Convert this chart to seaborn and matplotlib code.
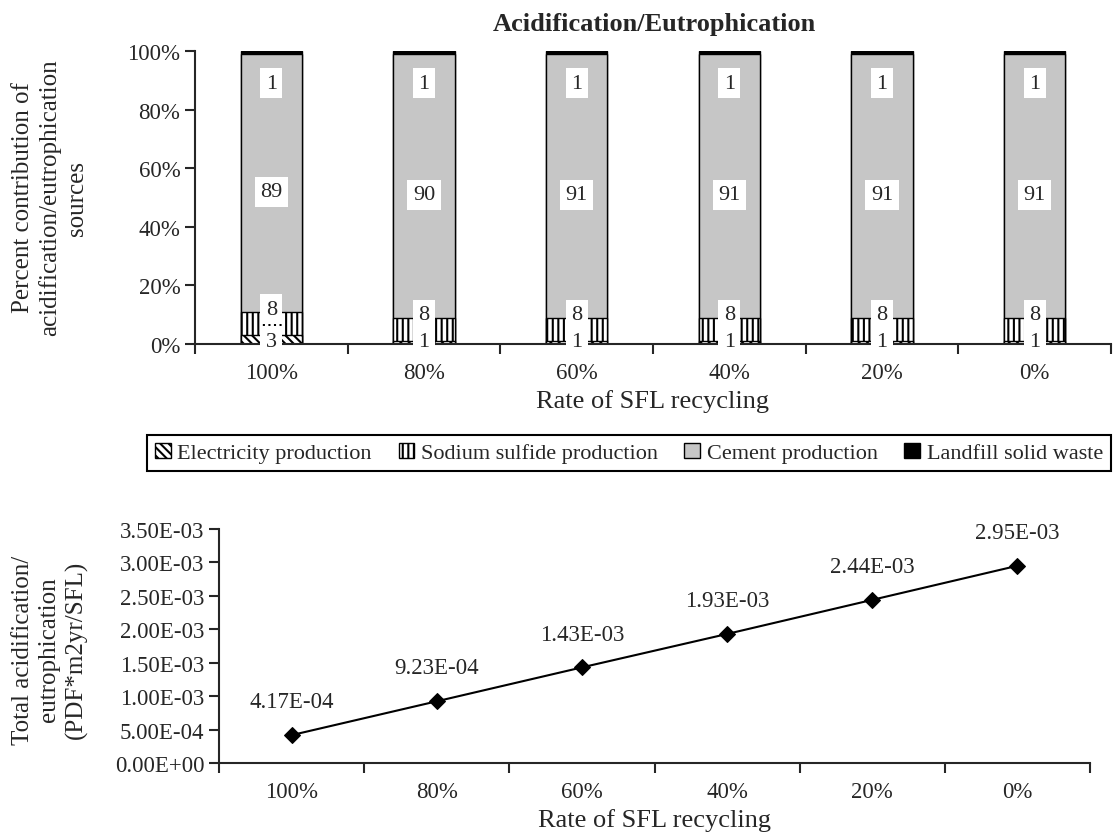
import numpy as np
import pandas as pd
import seaborn as sns
import matplotlib.pyplot as plt
from matplotlib.patches import Patch

rates = ["100%", "80%", "60%", "40%", "20%", "0%"]
electricity = [3, 1, 1, 1, 1, 1]
sodium_sulfide = [8, 8, 8, 8, 8, 8]
cement = [89, 90, 91, 91, 91, 91]
landfill = [1, 1, 1, 1, 1, 1]
total_impact = [4.17e-4, 9.23e-4, 1.43e-3, 1.93e-3, 2.44e-3, 2.95e-3]

sns.set_style("ticks")
plt.rcParams['font.family'] = ['Liberation Serif', 'DejaVu Serif']
plt.rcParams['hatch.linewidth'] = 1.5
plt.rcParams['axes.linewidth'] = 1.5

df = pd.DataFrame({
    "Electricity production": electricity,
    "Sodium sulfide production": sodium_sulfide,
    "Cement production": cement,
    "Landfill solid waste": landfill,
}, index=rates)
share = df.div(df.sum(axis=1), axis=0) * 100
cum = share.cumsum(axis=1)

styles = {
    "Electricity production": ("white", "\\\\\\\\"),
    "Sodium sulfide production": ("white", "|||"),
    "Cement production": ("#c6c6c6", None),
    "Landfill solid waste": ("black", None),
}

fig = plt.figure(figsize=(11.18, 8.37), dpi=100)
ax1 = fig.add_axes([195 / 1118, 1 - 345 / 837, (1111 - 195) / 1118, (345 - 52) / 837])
ax2 = fig.add_axes([219 / 1118, 1 - 764 / 837, (1090 - 219) / 1118, (764 - 530) / 837])

# stacked bars: draw cumulative heights from the top layer down
for col in reversed(df.columns):
    fc, hatch = styles[col]
    sns.barplot(x=rates, y=cum[col].to_numpy(), order=rates, color=fc, hatch=hatch,
                edgecolor="black", linewidth=1, width=0.4, saturation=1, ax=ax1)

box = dict(boxstyle="square,pad=0.25", fc="white", ec="none")
for i in range(len(rates)):
    sod_top = cum["Sodium sulfide production"].iloc[i]
    cem_top = cum["Cement production"].iloc[i]
    ax1.text(i, 89, str(landfill[i]), ha="center", va="center", fontsize=16, bbox=box)
    ax1.text(i, (sod_top + cem_top) / 2 - 3, str(cement[i]), ha="center", va="center", fontsize=16, bbox=box)
    ax1.text(i, sod_top + 1, str(sodium_sulfide[i]), ha="center", va="center", fontsize=16, bbox=box)
    ax1.text(i, 1, str(electricity[i]), ha="center", va="center", fontsize=16, bbox=box)

ax1.set_ylim(0, 100)
ax1.set_yticks(range(0, 101, 20))
ax1.set_yticklabels([f"{v}%" for v in range(0, 101, 20)])

for ax in (ax1, ax2):
    ax.set_xlim(-0.5, len(rates) - 0.5)
    ax.set_xticks(np.arange(-0.5, len(rates), 1.0))
    ax.set_xticklabels([])
    ax.set_xticks(np.arange(len(rates)), minor=True)
    ax.set_xticklabels(rates, minor=True)
    ax.tick_params(axis="x", which="major", length=7, width=1.5, direction="out")
    ax.tick_params(axis="x", which="minor", length=0, pad=13, labelsize=16.5)
    ax.tick_params(axis="y", length=7, width=1.5, labelsize=16.5)
    ax.set_xlabel("Rate of SFL recycling", fontsize=19, labelpad=4)
    ax.set_ylabel("")
    sns.despine(ax=ax)

# total impact line
positions = np.arange(len(rates))
sns.lineplot(x=positions, y=total_impact, color="black", marker="D", markersize=8,
             markeredgecolor="black", linewidth=1.5, ax=ax2)
for i, v in enumerate(total_impact):
    ax2.annotate(f"{v:.2E}", (i, v), xytext=(0, 24), textcoords="offset points",
                 ha="center", va="center", fontsize=16.5)

ax2.set_ylim(0, 3.5e-3)
yt = np.arange(0, 3.51e-3, 0.5e-3)
ax2.set_yticks(yt)
ax2.set_yticklabels([f"{v:.2E}" for v in yt])
ax2.set_xlim(-0.5, len(rates) - 0.5)

fig.text(654 / 1118, 1 - 25 / 837, "Acidification/Eutrophication", ha="center", va="center",
         fontsize=19, fontweight="bold")
fig.text(50 / 1118, 1 - 198 / 837, "Percent contribution of\nacidification/eutrophication\nsources",
         rotation=90, ha="center", va="center", fontsize=18, linespacing=1.25, multialignment="center")
fig.text(50 / 1118, 1 - 650 / 837, "Total acidification/\neutrophication\n(PDF*m2yr/SFL)",
         rotation=90, ha="center", va="center", fontsize=18, linespacing=1.25, multialignment="center")

handles = [Patch(facecolor=styles[c][0], hatch=styles[c][1], edgecolor="black") for c in df.columns]
leg = fig.legend(handles, list(df.columns), loc="center", bbox_to_anchor=(629 / 1118, 1 - 454 / 837),
                 ncol=4, frameon=True, fancybox=False, edgecolor="black", framealpha=1, fontsize=16,
                 handlelength=0.7, handleheight=0.7, handletextpad=0.3, columnspacing=1.2,
                 borderpad=0.35)
leg.get_frame().set_linewidth(1.5)

fig.savefig("out.png", dpi=100)
